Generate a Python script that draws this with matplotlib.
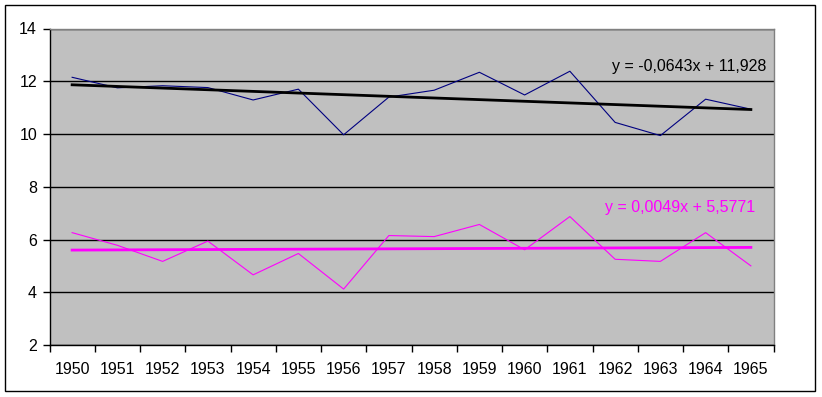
import numpy as np
import matplotlib
matplotlib.use("Agg")
import matplotlib.pyplot as plt
from matplotlib.patches import Rectangle

plt.rcParams["font.family"] = ["Liberation Sans", "DejaVu Sans"]

years = [str(y) for y in range(1950, 1966)]
upper = [12.15, 11.75, 11.83, 11.76, 11.29, 11.70, 9.97, 11.40,
         11.66, 12.34, 11.48, 12.38, 10.44, 9.94, 11.32, 10.94]
lower = [6.26, 5.78, 5.17, 5.94, 4.66, 5.47, 4.12, 6.15,
         6.11, 6.57, 5.61, 6.87, 5.25, 5.17, 6.26, 5.00]
upper_label = "y = -0,0643x + 11,928"
lower_label = "y = 0,0049x + 5,5771"

W, H = 822, 397
fig = plt.figure(figsize=(W / 100, H / 100), dpi=100)
fig.patch.set_facecolor("white")
fig.patches.append(Rectangle((5 / W, 1 - 391 / H), 810 / W, 386 / H,
                             transform=fig.transFigure, fill=False,
                             edgecolor="black", linewidth=1))

ax = fig.add_axes([49.5 / W, 1 - 345 / H, 724 / W, 316.5 / H])
ax.set_facecolor("#C0C0C0")

x = np.arange(1, len(years) + 1)
ax.plot(x, upper, color="#000080", linewidth=0.8)
ax.plot(x, lower, color="#FF00FF", linewidth=0.8)

# linear trend lines
for vals, col in [(upper, "black"), (lower, "#FF00FF")]:
    k, b = np.polyfit(x, vals, 1)
    ax.plot(x, k * x + b, color=col, linewidth=2)

ax.set_xlim(0.5, len(years) + 0.5)
ax.set_ylim(2, 14)
ax.set_yticks(range(2, 15, 2))
ax.set_xticks(x)
ax.set_xticklabels(years)
ax.set_xticks(np.arange(0.5, len(years) + 1, 1), minor=True)
ax.tick_params(axis="x", which="major", length=0, pad=12, labelsize=11.5)
ax.tick_params(axis="x", which="minor", length=5, width=1, direction="out")
ax.tick_params(axis="y", length=5, width=1, labelsize=11.5, pad=4)
ax.grid(axis="y", color="black", linewidth=1)
ax.set_axisbelow(True)

for side in ["left", "bottom"]:
    ax.spines[side].set_color("black")
    ax.spines[side].set_linewidth(1)
for side in ["top", "right"]:
    ax.spines[side].set_color("#808080")
    ax.spines[side].set_linewidth(1)

ax.text(16.35, 12.55, upper_label, ha="right", va="center", fontsize=11.5, color="black")
ax.text(16.1, 7.2, lower_label, ha="right", va="center", fontsize=11.5, color="#FF00FF")

fig.savefig("out.png", dpi=100)
